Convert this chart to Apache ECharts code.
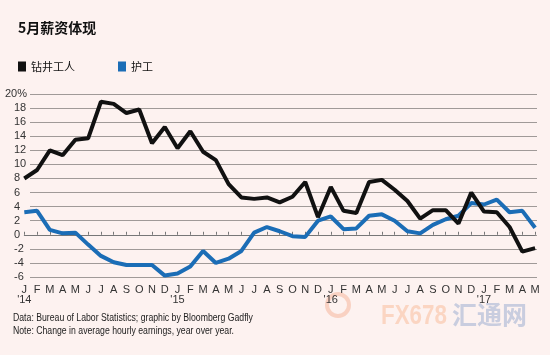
<!DOCTYPE html>
<html>
<head>
<meta charset="utf-8">
<script src="https://cdn.jsdelivr.net/npm/echarts@6/dist/echarts.min.js"></script>
<style>
html,body{margin:0;padding:0;background:#fdf2f0;}
#c{width:550px;height:355px;}
</style>
</head>
<body>
<div id="c"></div>
<script>
const categories = [
  '2014-01','2014-02','2014-03','2014-04','2014-05','2014-06','2014-07','2014-08','2014-09','2014-10','2014-11','2014-12',
  '2015-01','2015-02','2015-03','2015-04','2015-05','2015-06','2015-07','2015-08','2015-09','2015-10','2015-11','2015-12',
  '2016-01','2016-02','2016-03','2016-04','2016-05','2016-06','2016-07','2016-08','2016-09','2016-10','2016-11','2016-12',
  '2017-01','2017-02','2017-03','2017-04','2017-05'
];
const monthLetters = ['J','F','M','A','M','J','J','A','S','O','N','D'];
const yearMarks = {'2014-01': "'14", '2015-01': "'15", '2016-01': "'16", '2017-01': "'17"};
const drillers = [8.0, 9.2, 12.0, 11.3, 13.5, 13.7, 18.9, 18.6, 17.3, 17.8, 13.0,
  15.3, 12.3, 14.7, 11.8, 10.6, 7.2, 5.3, 5.1, 5.3, 4.6,
  5.4, 7.5, 2.5, 6.8, 3.4, 3.1, 7.5, 7.8, 6.4, 4.8,
  2.3, 3.5, 3.5, 1.6, 6.0, 3.3, 3.2, 1.1, -2.4, -1.9];
const nurses = [3.2, 3.4, 0.7, 0.2, 0.3, -1.4, -3.0, -3.9, -4.3, -4.3, -4.3,
  -5.8, -5.5, -4.5, -2.3, -4.0, -3.4, -2.3, 0.3, 1.1, 0.5,
  -0.2, -0.3, 2.0, 2.6, 0.8, 0.9, 2.7, 2.9, 2.0, 0.5,
  0.2, 1.4, 2.2, 2.7, 4.5, 4.3, 5.0, 3.2, 3.4, 1.0];
const yMin = -6, yMax = 20, yStep = 2;
const titleText = '5月薪资体现';
const seriesNames = ['钻井工人', '护工'];
const noteLines = ['Data: Bureau of Labor Statistics; graphic by Bloomberg Gadfly',
  'Note: Change in average hourly earnings, year over year.'];

const labelFont = 'Liberation Sans, Arial, sans-serif';
const cjkFont = 'Noto Sans CJK SC, sans-serif';

const chart = echarts.init(document.getElementById('c'), null, {renderer: 'canvas'});
chart.setOption({
  backgroundColor: '#fdf2f0',
  animation: false,
  title: {
    text: titleText, left: 13, top: 16,
    textStyle: {fontFamily: cjkFont, fontSize: 14, fontWeight: 'bold', color: '#111'}
  },
  legend: {
    left: 13, top: 56, icon: 'rect', itemWidth: 8, itemHeight: 10, itemGap: 43,
    data: seriesNames,
    textStyle: {fontFamily: cjkFont, fontSize: 11, color: '#111'}
  },
  grid: [
    {left: 30, right: 13, top: 94, bottom: 78},
    {left: 24.3, right: 14.9, top: 94, bottom: 78}
  ],
  xAxis: [
    {gridIndex: 0, type: 'value', min: 0, max: 1, show: false},
    {gridIndex: 1, type: 'category', data: categories, boundaryGap: false,
     axisLine: {show: true, lineStyle: {color: '#777', width: 1}},
     axisTick: {show: true, inside: true, length: 3, interval: 0, lineStyle: {color: '#777'}},
     axisLabel: {interval: 0, margin: 8, fontFamily: labelFont, fontSize: 11, lineHeight: 10, color: '#333',
       formatter: function (v) {
         const m = monthLetters[parseInt(v.slice(5), 10) - 1];
         return yearMarks[v] ? m + '\n' + yearMarks[v] : m;
       }},
     splitLine: {show: false}}
  ],
  yAxis: [
    {gridIndex: 0, type: 'value', min: yMin, max: yMax, interval: yStep, position: 'left',
     axisLine: {show: false}, axisTick: {show: false},
     axisLabel: {align: 'left', margin: 16, fontFamily: labelFont, fontSize: 11, color: '#333',
       formatter: function (v) { return v === yMax ? '' : String(v); }},
     splitLine: {show: true, lineStyle: {color: '#a09a98', width: 1.2}}},
    {gridIndex: 0, type: 'value', min: yMin, max: yMax, interval: yStep, position: 'left', offset: 0,
     axisLine: {show: false}, axisTick: {show: false}, splitLine: {show: false},
     axisLabel: {align: 'right', margin: 3, fontFamily: labelFont, fontSize: 11, color: '#333',
       formatter: function (v) { return v === yMax ? v + '%' : ''; }}},
    {gridIndex: 1, type: 'value', min: yMin, max: yMax, interval: yStep, show: false}
  ],
  series: [
    {name: seriesNames[0], type: 'line', xAxisIndex: 1, yAxisIndex: 2, data: drillers,
     showSymbol: false, symbol: 'none', color: '#111',
     lineStyle: {color: '#111', width: 4}, z: 3},
    {name: seriesNames[1], type: 'line', xAxisIndex: 1, yAxisIndex: 2, data: nurses,
     showSymbol: false, symbol: 'none', color: '#1b6db6',
     lineStyle: {color: '#1b6db6', width: 4}, z: 2}
  ],
  graphic: [
    {type: 'text', x: 13, y: 313, scaleX: 0.87, style: {text: noteLines[0], fontFamily: labelFont, fontSize: 10, fill: '#222'}},
    {type: 'text', x: 13, y: 326, scaleX: 0.87, style: {text: noteLines[1], fontFamily: labelFont, fontSize: 10, fill: '#222'}},
    {type: 'circle', shape: {cx: 338, cy: 305, r: 11}, style: {fill: 'none', stroke: 'rgba(240,150,110,0.35)', lineWidth: 4}, silent: true},
    {type: 'text', x: 381, y: 302, scaleX: 0.8, style: {text: 'FX678', fontFamily: labelFont, fontSize: 28, fontWeight: 'bold', fill: 'rgba(245,160,110,0.35)'}, silent: true},
    {type: 'text', x: 452, y: 302, style: {text: '汇通网', fontFamily: cjkFont, fontSize: 25, fontWeight: 'bold', fill: 'rgba(70,110,180,0.28)'}, silent: true}
  ]
});
</script>
</body>
</html>
